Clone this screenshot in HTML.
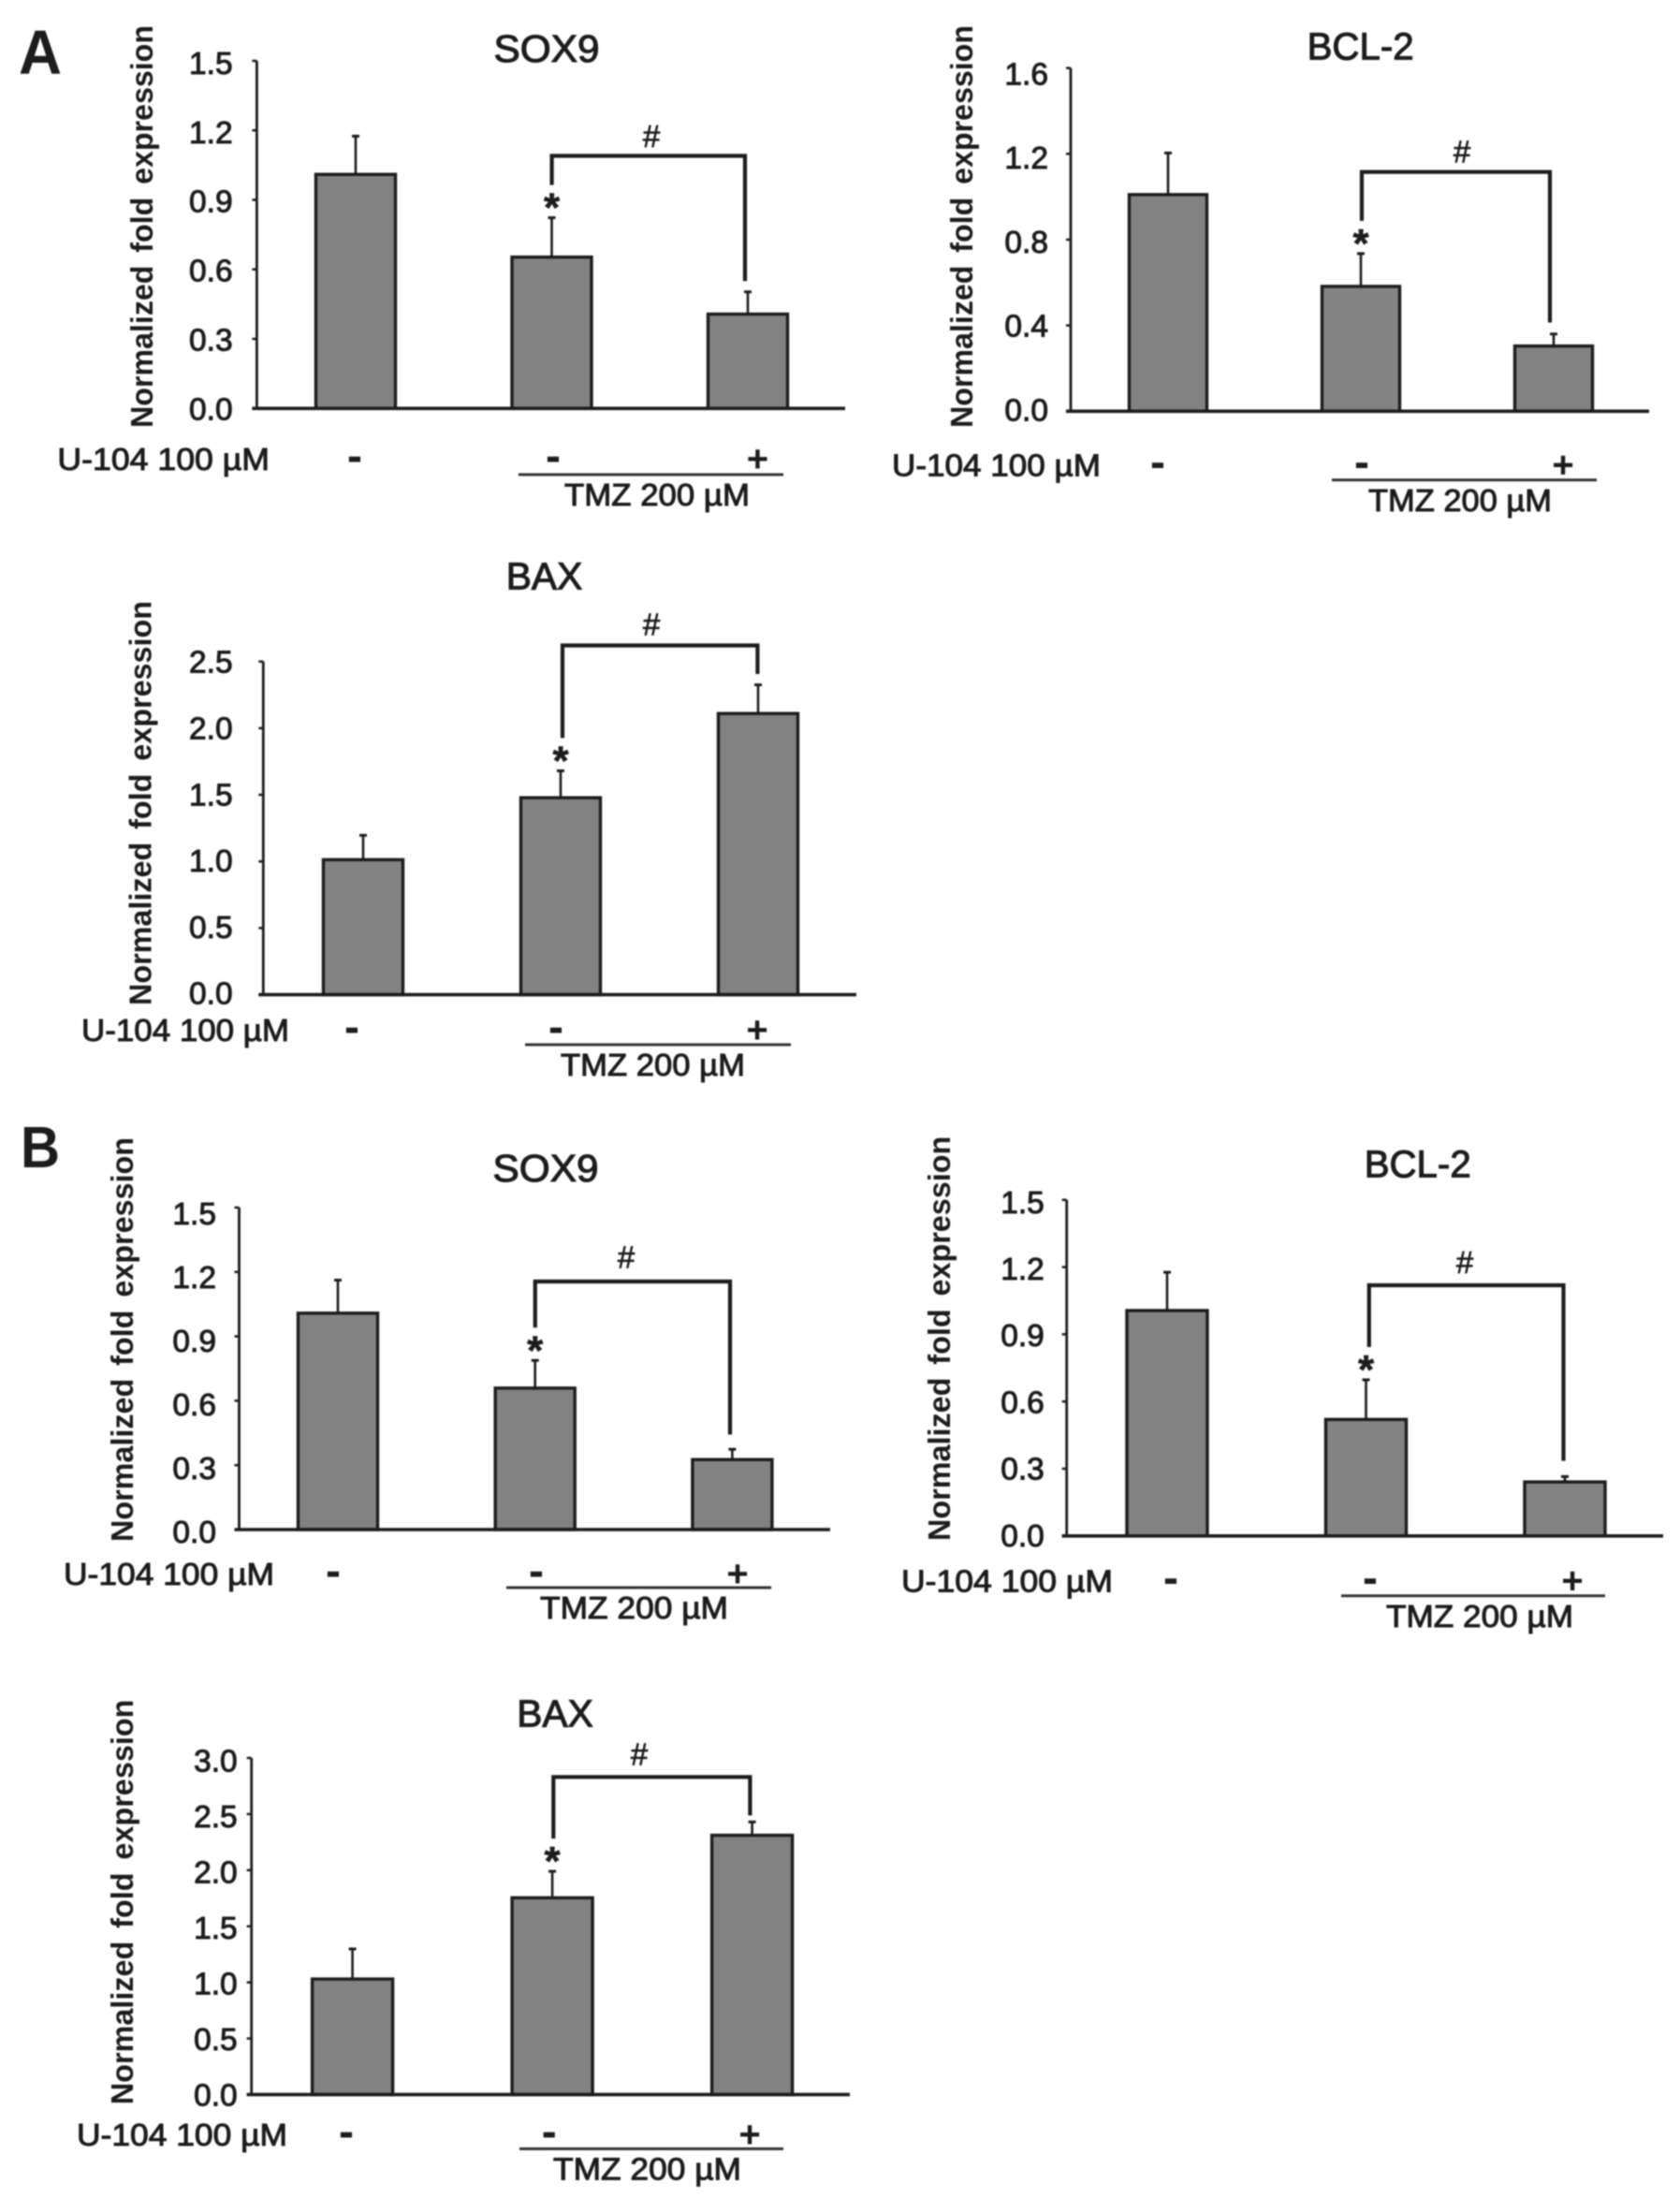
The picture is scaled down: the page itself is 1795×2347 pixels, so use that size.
<!DOCTYPE html>
<html lang="en">
<head>
<meta charset="utf-8">
<title>SOX9, BCL-2 and BAX normalized fold expression</title>
<style>
html,body{margin:0;padding:0;background:#fff;}
body{width:1795px;height:2347px;overflow:hidden;}
#figure{display:block;filter:blur(0.9px);}
text{font-family:"Liberation Sans",Arial,sans-serif;fill:#1c1c1c;}
</style>
</head>
<body>
<svg id="figure" xmlns="http://www.w3.org/2000/svg" width="1795" height="2347" viewBox="0 0 1795 2347">
  <rect x="0" y="0" width="1795" height="2347" fill="#ffffff"/>
  <text x="20" y="79" font-size="67" font-weight="bold" textLength="46" lengthAdjust="spacingAndGlyphs">A</text>
  <text x="22" y="1247" font-size="62" font-weight="bold" textLength="42" lengthAdjust="spacingAndGlyphs">B</text>
</svg>
<script>
const categories = ['Control', 'TMZ 200 µM', 'TMZ 200 µM + U-104 100 µM'];
const u104Signs = ['-', '-', '+'];

const aSox9Means = [1.01, 0.653, 0.407];
const aSox9Errors = [0.165, 0.17, 0.096];
const aSox9Ticks = ['0.0', '0.3', '0.6', '0.9', '1.2', '1.5'];

const aBcl2Means = [1.01, 0.582, 0.304];
const aBcl2Errors = [0.194, 0.153, 0.056];
const aBcl2Ticks = ['0.0', '0.4', '0.8', '1.2', '1.6'];

const aBaxMeans = [1.013, 1.478, 2.11];
const aBaxErrors = [0.183, 0.202, 0.215];
const aBaxTicks = ['0.0', '0.5', '1.0', '1.5', '2.0', '2.5'];

const bSox9Means = [1.008, 0.659, 0.326];
const bSox9Errors = [0.154, 0.129, 0.048];
const bSox9Ticks = ['0.0', '0.3', '0.6', '0.9', '1.2', '1.5'];

const bBcl2Means = [1.006, 0.52, 0.241];
const bBcl2Errors = [0.171, 0.177, 0.024];
const bBcl2Ticks = ['0.0', '0.3', '0.6', '0.9', '1.2', '1.5'];

const bBaxMeans = [1.03, 1.754, 2.311];
const bBaxErrors = [0.268, 0.236, 0.119];
const bBaxTicks = ['0.0', '0.5', '1.0', '1.5', '2.0', '2.5', '3.0'];

const panels = [
  {id:'a-sox9', title:'SOX9', means:aSox9Means, errors:aSox9Errors, ticks:aSox9Ticks,
   axisX:274.4, top:65, base:436.3, axisEnd:903, barStart:380, barStep:209.5, barW:85, tickEnd:248.6, dyTop:2, dyBase:0,
   titleX:584, titleY:51.7, titleW:113, labelX:152, labelY1:27, labelY2:457,
   brL:589.6, brR:796, brY:166.5, rightGap:11.6, hashX:696, hashY:145,
   uX:61.4, uW:226.6, uY:490, signX:[379,591,809.4], lineX1:554, lineX2:837, lineY:507, tmzX:603, tmzW:198, tmzY:528},
  {id:'a-bcl2', title:'BCL-2', means:aBcl2Means, errors:aBcl2Errors, ticks:aBcl2Ticks,
   axisX:1144, top:72.7, base:439.3, axisEnd:1762, barStart:1248, barStep:206, barW:83, tickEnd:1120, dyTop:5.8, dyBase:-2,
   titleX:1453.6, titleY:49, titleW:114, labelX:1028, labelY1:27, labelY2:457,
   brL:1455, brR:1656, brY:183.7, rightGap:12.3, hashX:1562, hashY:161.5,
   uX:953, uW:223, uY:496.7, signX:[1237,1455,1670], lineX1:1423, lineX2:1706, lineY:512.8, tmzX:1462, tmzW:196, tmzY:534},
  {id:'a-bax', title:'BAX', means:aBaxMeans, errors:aBaxErrors, ticks:aBaxTicks,
   axisX:281.3, top:706.7, base:1062.6, axisEnd:915, barStart:388, barStep:211, barW:85, tickEnd:248.6, dyTop:0, dyBase:-2,
   titleX:581.5, titleY:615, titleW:81.5, labelX:150.4, labelY1:642, labelY2:1074,
   brL:601, brR:809.4, brY:689.5, rightGap:11.6, hashX:696, hashY:666.5,
   uX:87, uW:222, uY:1100, signX:[376,594,809], lineX1:561, lineX2:845, lineY:1116, tmzX:599, tmzW:197, tmzY:1137},
  {id:'b-sox9', title:'SOX9', means:bSox9Means, errors:bSox9Errors, ticks:bSox9Ticks,
   axisX:255.5, top:1290, base:1634, axisEnd:887, barStart:361, barStep:210.7, barW:85, tickEnd:231, dyTop:6, dyBase:2,
   titleX:583, titleY:1247.4, titleW:113, labelX:131, labelY1:1215, labelY2:1647,
   brL:571.8, brR:780, brY:1369, rightGap:15.7, hashX:669, hashY:1342.3,
   uX:68, uW:225, uY:1681, signX:[356,573,788], lineX1:541, lineX2:824, lineY:1696, tmzX:577, tmzW:201, tmzY:1717},
  {id:'b-bcl2', title:'BCL-2', means:bBcl2Means, errors:bBcl2Errors, ticks:bBcl2Ticks,
   axisX:1139.7, top:1281.8, base:1640.8, axisEnd:1777, barStart:1247, barStep:212.5, barW:86, tickEnd:1115.8, dyTop:2, dyBase:-1,
   titleX:1514.7, titleY:1242.8, titleW:114, labelX:1004, labelY1:1213.7, labelY2:1646,
   brL:1462.8, brR:1670.5, brY:1373, rightGap:16.8, hashX:1565, hashY:1348,
   uX:963, uW:226, uY:1688.7, signX:[1251,1464,1680], lineX1:1433, lineX2:1715, lineY:1704.7, tmzX:1481, tmzW:200, tmzY:1725.8},
  {id:'b-bax', title:'BAX', means:bBaxMeans, errors:bBaxErrors, ticks:bBaxTicks,
   axisX:268.7, top:1878, base:2237.6, axisEnd:908, barStart:376.6, barStep:213.5, barW:86, tickEnd:253.7, dyTop:2.6, dyBase:0,
   titleX:593, titleY:1829.8, titleW:81.5, labelX:131, labelY1:1815.6, labelY2:2248.3,
   brL:591.3, brR:801.4, brY:1898.3, rightGap:7, hashX:683, hashY:1873.5,
   uX:82, uW:225, uY:2280, signX:[370,586.7,801], lineX1:555, lineX2:837, lineY:2295.5, tmzX:591, tmzW:201, tmzY:2316.5}
];

const SVG_NS = 'http://www.w3.org/2000/svg';
const INK = '#1c1c1c';
const svgRoot = document.getElementById('figure');

function make(parent, tag, props) {
  const node = document.createElementNS(SVG_NS, tag);
  Object.keys(props).forEach(function (k) { node.setAttribute(k, props[k]); });
  parent.appendChild(node);
  return node;
}

function label(parent, str, props) {
  const node = make(parent, 'text', props);
  node.textContent = str;
  return node;
}

panels.forEach(function (p) {
  const group = make(svgRoot, 'g', {});
  
  

  const maxValue = parseFloat(p.ticks[p.ticks.length - 1]);
  const yScale = function (v) { return p.base - (v / maxValue) * (p.base - p.top); };
  const xScale = function (i) { return p.barStart + i * p.barStep; };

  const title = label(group, p.title, {x:p.titleX, y:p.titleY + 14.5, 'font-size':41, 'text-anchor':'middle', stroke:INK, 'stroke-width':1.1, textLength:p.titleW, lengthAdjust:'spacingAndGlyphs'});
  
  

  const yTitle = label(group, 'Normalized fold expression', {
    transform:'translate(' + (p.labelX + 11) + ',' + ((p.labelY1 + p.labelY2) / 2) + ') rotate(-90)',
    'font-size':33, 'font-weight':'bold', 'text-anchor':'middle', 'word-spacing':'5px',
    textLength:(p.labelY2 - p.labelY1), lengthAdjust:'spacingAndGlyphs'});
  
  

  p.ticks.forEach(function (t) {
    const value = parseFloat(t);
    const y = yScale(value);
    const labelShift = p.dyBase + (p.dyTop - p.dyBase) * (value / maxValue);
    const tick = make(group, 'line', {x1:p.axisX - 5, x2:p.axisX, y1:y, y2:y, stroke:INK, 'stroke-width':2.5});
    
    
    const tickText = label(group, t, {x:p.tickEnd, y:y + 12 + labelShift, 'font-size':33.5, 'text-anchor':'end', stroke:INK, 'stroke-width':1});
    
    
  });

  p.means.forEach(function (m, i) {
    const cx = xScale(i);
    const topY = yScale(m);
    const errY = yScale(m + p.errors[i]);

    const whisker = make(group, 'line', {x1:cx, x2:cx, y1:topY, y2:errY, stroke:INK, 'stroke-width':2.6});
    
    

    const cap = make(group, 'line', {x1:cx - 4, x2:cx + 4, y1:errY, y2:errY, stroke:INK, 'stroke-width':3});
    
    

    const bar = make(group, 'rect', {x:cx - p.barW / 2, y:topY, width:p.barW, height:p.base - topY, fill:'#828282', stroke:INK, 'stroke-width':3.4});
    
    
    const tip = make(bar, 'title', {});
    tip.textContent = categories[i];
  });

  const yAxis = make(group, 'line', {x1:p.axisX, x2:p.axisX, y1:p.top, y2:p.base, stroke:INK, 'stroke-width':2.8});
  
  

  const xAxis = make(group, 'line', {x1:p.axisX - 5, x2:p.axisEnd, y1:p.base, y2:p.base, stroke:INK, 'stroke-width':3.6});
  
  

  const starRefY = yScale(p.means[1] + p.errors[1]);
  const rightRefY = yScale(p.means[2] + p.errors[2]);
  const bracketPath = 'M' + p.brL + ' ' + (starRefY - 35) + ' V' + p.brY + ' H' + p.brR + ' V' + (rightRefY - p.rightGap);
  const bracket = make(group, 'path', {d:bracketPath, fill:'none', stroke:INK, 'stroke-width':4.2});
  
  

  const hash = label(group, '#', {x:p.hashX, y:p.hashY + 12, 'font-size':33, 'text-anchor':'middle', stroke:INK, 'stroke-width':0.7});
  
  

  const star = label(group, '*', {x:xScale(1), y:starRefY - 16 + 20, 'font-size':44, 'font-weight':'bold', 'text-anchor':'middle', stroke:INK, 'stroke-width':0.6});
  
  

  const uLabel = label(group, 'U-104 100 µM', {x:p.uX, y:p.uY + 12, 'font-size':33.5, stroke:INK, 'stroke-width':1, textLength:p.uW, lengthAdjust:'spacingAndGlyphs'});
  
  

  u104Signs.forEach(function (s, i) {
    const isPlus = s === '+';
    const sign = label(group, s, {x:p.signX[i], y:p.uY + (isPlus ? 13.5 : 13), 'font-size':isPlus ? 40 : 48, 'font-weight':'bold', 'text-anchor':'middle'});
    
    
  });

  const rule = make(group, 'line', {x1:p.lineX1, x2:p.lineX2, y1:p.lineY, y2:p.lineY, stroke:'#333', 'stroke-width':3});
  
  

  const tmz = label(group, 'TMZ 200 µM', {x:p.tmzX, y:p.tmzY + 12, 'font-size':33.5, stroke:INK, 'stroke-width':1, textLength:p.tmzW, lengthAdjust:'spacingAndGlyphs'});
  
  
});
</script>
</body>
</html>
